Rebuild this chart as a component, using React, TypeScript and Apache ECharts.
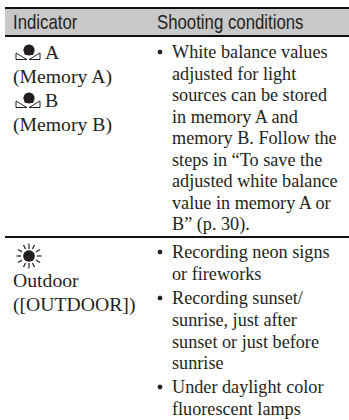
import React, { useEffect, useRef } from "react";
import * as echarts from "echarts";

const headers = ["Indicator", "Shooting conditions"];
const leftLines: [string, number, number][] = [
  ["A", 45, 52],
  ["(Memory A)", 13, 76],
  ["B", 45, 100],
  ["(Memory B)", 13, 124],
  ["Outdoor", 13, 280],
  ["([OUTDOOR])", 13, 304],
];
const rightLines: [string, number][] = [
  ["White balance values", 52],
  ["adjusted for light", 73.5],
  ["sources can be stored", 95],
  ["in memory A and", 116.5],
  ["memory B. Follow the", 138],
  ["steps in \u201CTo save the", 159.5],
  ["adjusted white balance", 181],
  ["value in memory A or", 202.5],
  ["B\u201D (p. 30).", 224],
  ["Recording neon signs", 252],
  ["or fireworks", 273.5],
  ["Recording sunset/", 298],
  ["sunrise, just after", 320],
  ["sunset or just before", 341.5],
  ["sunrise", 363],
  ["Under daylight color", 387],
  ["fluorescent lamps", 408.5],
];
const bullets = [52, 252, 298, 387];
const rules: [number, number][] = [
  [8, 2],
  [36, 2],
  [237, 2],
];

const serif = "'Liberation Serif', serif";
const sans = "'Liberation Sans', sans-serif";
const ink = "#231f20";

function wbIcon(x: number, y: number) {
  return [
    { type: "circle", shape: { cx: x + 14, cy: y + 5, r: 5.5 }, style: { fill: ink } },
    { type: "polygon", shape: { points: [[x + 8.5, y + 5], [x + 19.5, y + 5], [x + 18, y + 10], [x + 10, y + 10]] }, style: { fill: ink } },
    { type: "polygon", shape: { points: [[x + 1, y + 8], [x + 1, y + 14.5], [x + 12, y + 14.5]] }, style: { fill: "none", stroke: ink, lineWidth: 1 } },
    { type: "polygon", shape: { points: [[x + 25, y + 8], [x + 25, y + 14.5], [x + 14, y + 14.5]] }, style: { fill: "none", stroke: ink, lineWidth: 1 } },
  ];
}

function sunIcon(cx: number, cy: number) {
  const rays = [
    [0, -7, 0, -12.5], [0, 7, 0, 12.5], [-8, 0, -12.5, 0], [8, 0, 12.5, 0],
    [-7, -4, -11, -6.5], [7, -4, 11, -6.5], [-7, 4, -11, 6.5], [7, 4, 11, 6.5],
    [-3.5, -7, -5.5, -11], [3.5, -7, 5.5, -11], [-3.5, 7, -5.5, 11], [3.5, 7, 5.5, 11],
  ];
  return [
    { type: "circle", shape: { cx, cy, r: 5.8 }, style: { fill: ink } },
    ...rays.map((r) => ({
      type: "line",
      shape: { x1: cx + r[0], y1: cy + r[1], x2: cx + r[2], y2: cy + r[3] },
      style: { stroke: ink, lineWidth: 1.2 },
    })),
  ];
}

export default function App() {
  const ref = useRef<HTMLDivElement>(null);
  useEffect(() => {
    document.body.style.margin = "0";
    const chart = echarts.init(ref.current!, undefined, { renderer: "svg" });
    const txt = (text: string, x: number, y: number, font: string, size: number, sx = 1) => ({
      type: "text",
      x,
      y,
      scaleX: sx,
      style: { text, fill: ink, font: `${size}px ${font}`, textVerticalAlign: "middle" },
    });
    chart.setOption({
      animation: false,
      graphic: [
        { type: "rect", shape: { x: 5, y: 8, width: 344, height: 28 }, style: { fill: "#c8c8c8" } },
        ...rules.map((r) => ({
          type: "line",
          shape: { x1: 5, y1: r[0], x2: 349, y2: r[0] },
          style: { stroke: "#111", lineWidth: r[1] },
        })),
        txt(headers[0], 13, 22, sans, 20, 0.84),
        txt(headers[1], 157, 22, sans, 20, 0.84),
        ...leftLines.map((l) => txt(l[0], l[1], l[2], serif, 19.7)),
        ...rightLines.map((l) => txt(l[0], 172, l[1], serif, 18.2)),
        ...bullets.map((y) => ({ type: "circle", shape: { cx: 160, cy: y, r: 2.4 }, style: { fill: ink } })),
        ...wbIcon(15, 45),
        ...wbIcon(15, 93),
        ...sunIcon(29, 256),
      ],
    });
    return () => chart.dispose();
  }, []);
  return <div ref={ref} style={{ width: 349, height: 420, background: "#fff" }} />;
}
